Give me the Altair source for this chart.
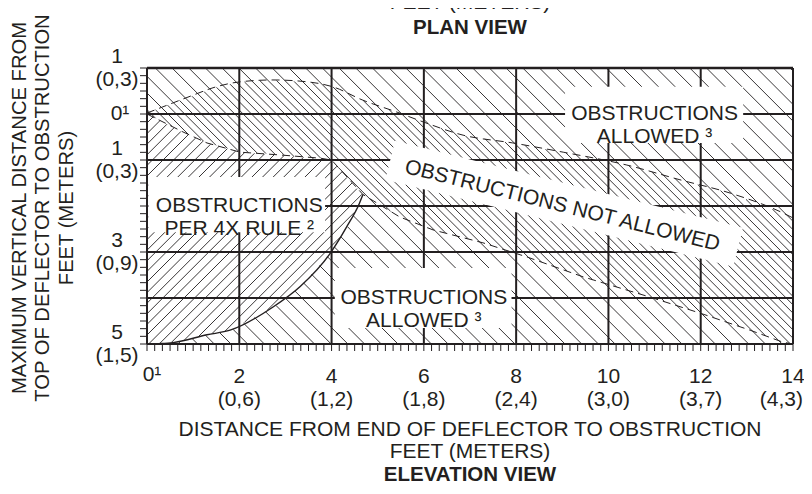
import numpy as np
import pandas as pd
import altair as alt

# ---------------- values ----------------
x_tick_pos = [0, 2, 4, 6, 8, 10, 12, 14]
x_ft_labels = ["0¹", "2", "4", "6", "8", "10", "12", "14"]
x_m_pos = [2, 4, 6, 8, 10, 12, 14]
x_m_labels = ["(0,6)", "(1,2)", "(1,8)", "(2,4)", "(3,0)", "(3,7)", "(4,3)"]

y_ft_pos = [-1, 1, 3, 5]
y_ft_labels = ["1", "1", "3", "5"]
y_m_pos = [-1, 1, 3, 5]
y_m_labels = ["(0,3)", "(0,3)", "(0,9)", "(1,5)"]
y_zero_label = ["0¹"]

grid_x = [2, 4, 6, 8, 10, 12]
grid_y = [0, 1, 2, 3, 4]

# upper dashed curve (spray boundary above)
upper_x = [0, 0.56, 1.0, 1.43, 2.02, 2.73, 3.47, 4.03, 4.68, 5.42, 5.98, 6.85,
           7.93, 9.02, 10.40, 11.55, 12.64, 13.78, 14.0]
upper_y = [-0.02, -0.24, -0.41, -0.57, -0.70, -0.74, -0.70, -0.59, -0.30, -0.04,
           0.17, 0.46, 0.63, 0.83, 1.11, 1.43, 1.72, 2.15, 2.26]
# lower dashed curve
lower_x = [0, 0.78, 1.30, 2.02, 2.88, 3.75, 4.0, 4.68, 5.48, 6.20, 7.28, 8.24,
           9.45, 10.9, 11.99, 13.07, 13.78, 14.0]
lower_y = [0, 0.39, 0.63, 0.83, 0.89, 0.96, 1.0, 1.75, 2.24, 2.52, 2.80, 3.11,
           3.54, 3.98, 4.33, 4.70, 4.96, 5.0]
# solid curve bounding the 4X rule zone
rule4x_x = [0, 0.3, 0.56, 1.3, 1.8, 2.74, 3.32, 3.97, 4.33, 4.6, 4.68]
rule4x_y = [5.0, 4.99, 4.97, 4.80, 4.70, 4.19, 3.75, 3.03, 2.45, 1.95, 1.75]

region_labels = ["OBSTRUCTIONS\nPER 4X RULE ²", "OBSTRUCTIONS\nALLOWED ³", "OBSTRUCTIONS\nALLOWED ³"]
region_x = [2.0, 11.0, 6.0]
region_y = [2.0, 0.0, 4.0]
box_x1 = [0.03, 9.06, 4.07]
box_x2 = [3.86, 12.92, 7.90]
box_y1 = [1.37, -0.59, 3.35]
box_y2 = [2.57, 0.63, 4.65]

slant_label = ["OBSTRUCTIONS NOT ALLOWED"]
slant_x = [9.0]
slant_y = [2.0]
band_x = [5.27]
band_x2 = [12.81]
band_y = [1.005]
band_y2 = [2.897]

y_title_lines = ["MAXIMUM VERTICAL DISTANCE  FROM", "TOP OF DEFLECTOR TO OBSTRUCTION", "FEET (METERS)"]
x_title_lines = ["DISTANCE FROM END OF DEFLECTOR TO OBSTRUCTION", "FEET (METERS)"]
top_title_lines = ["FEET (METERS)"]
view_titles = ["PLAN VIEW", "ELEVATION  VIEW"]

# ---------------- layout ----------------
W, H = 646, 276
X0, X1, Y0, Y1 = 0.0, 14.0, -1.0, 5.0
SX, SY = W / (X1 - X0), H / (Y1 - Y0)
FONT = "Liberation Sans"
INK = "#231f20"
FS = 21

xs = alt.Scale(domain=[X0, X1], nice=False, zero=False)
ys = alt.Scale(domain=[Y0, Y1], nice=False, zero=False, reverse=True)


def fU(x):
    return np.interp(x, upper_x, upper_y)


def fL(x):
    return np.interp(x, lower_x, lower_y)


def fS(x):
    return np.interp(x, rule4x_x, rule4x_y)


def in_4x(x, y):
    return (x <= rule4x_x[-1]) & (y >= fL(x)) & (y <= fS(x))


def in_dense(x, y):
    return (y >= fU(x)) & (y <= fL(x))


def not_4x(x, y):
    return ~in_4x(x, y)


def hatch(kind, spacing, phase, inside, name):
    rows = []
    px = np.arange(0, W + 0.01, 0.5)
    cs = np.arange(-W + phase, H, spacing) if kind == "back" else np.arange(phase, W + H, spacing)
    for c in cs:
        py = px + c if kind == "back" else c - px
        xd = px / SX + X0
        yd = py / SY + Y0
        ok = (py >= 0) & (py <= H) & inside(xd, yd)
        if not ok.any():
            continue
        d = np.diff(np.concatenate([[0], ok.astype(int), [0]]))
        starts = np.where(d == 1)[0]
        ends = np.where(d == -1)[0] - 1
        for s, e in zip(starts, ends):
            if e - s < 1:
                continue
            rows.append({"x": xd[s], "y": yd[s], "x2": xd[e], "y2": yd[e], "set": name})
    return rows


hatch_rows = (hatch("back", 16.7, 3.0, not_4x, "sparse")
              + hatch("back", 16.7, 3.0 + 8.35, in_dense, "dense")
              + hatch("fwd", 10.6, 2.0, in_4x, "rule4x"))
hatch_df = pd.DataFrame(hatch_rows).round(4)


def Xq(f):
    return alt.X(f, type="quantitative", scale=xs, axis=None)


def Yq(f):
    return alt.Y(f, type="quantitative", scale=ys, axis=None)


minor_x = [i / 6 for i in range(0, 85)]
minor_y = [-1 + i / 6 for i in range(0, 37)]

ticks_x = alt.Chart(pd.DataFrame({"t": minor_x})).mark_rule(color=INK, strokeWidth=1).encode(
    x=Xq("t"), y=alt.value(H), y2=alt.value(H + 7))
ticks_y = alt.Chart(pd.DataFrame({"t": minor_y})).mark_rule(color=INK, strokeWidth=1).encode(
    y=Yq("t"), x=alt.value(0), x2=alt.value(-7))

hatch_layer = alt.Chart(hatch_df).mark_rule(color=INK, strokeWidth=0.9).encode(
    x=Xq("x"), y=Yq("y"), x2=alt.X2("x2"), y2=alt.Y2("y2"))

upper_df = pd.DataFrame({"x": upper_x, "y": upper_y, "i": range(len(upper_x))})
lower_df = pd.DataFrame({"x": lower_x, "y": lower_y, "i": range(len(lower_x))})
s_df = pd.DataFrame({"x": rule4x_x, "y": rule4x_y, "i": range(len(rule4x_x))})

dash_u = alt.Chart(upper_df).mark_line(color=INK, strokeWidth=1, strokeDash=[8, 5], interpolate="monotone").encode(
    x=Xq("x"), y=Yq("y"), order="i:Q")
dash_l = alt.Chart(lower_df).mark_line(color=INK, strokeWidth=1, strokeDash=[8, 5]).encode(
    x=Xq("x"), y=Yq("y"), order="i:Q")
solid_s = alt.Chart(s_df).mark_line(color=INK, strokeWidth=1.4, interpolate="monotone").encode(
    x=Xq("x"), y=Yq("y"), order="i:Q")

grid_v = alt.Chart(pd.DataFrame({"gx": grid_x})).mark_rule(color=INK, strokeWidth=2).encode(x=Xq("gx"))
grid_h = alt.Chart(pd.DataFrame({"gy": grid_y})).mark_rule(color=INK, strokeWidth=2).encode(y=Yq("gy"))

boxes = alt.Chart(pd.DataFrame({"a": box_x1, "b": box_x2, "c": box_y1, "d": box_y2})).mark_rect(
    color="white", opacity=1).encode(x=Xq("a"), x2=alt.X2("b"), y=Yq("c"), y2=alt.Y2("d"))
band = alt.Chart(pd.DataFrame({"a": band_x, "b": band_x2, "c": band_y, "d": band_y2})).mark_rule(
    color="white", strokeWidth=40, strokeCap="butt").encode(x=Xq("a"), x2=alt.X2("b"), y=Yq("c"), y2=alt.Y2("d"))

border_v = alt.Chart(pd.DataFrame({"gx": [X0, X1]})).mark_rule(color=INK, strokeWidth=2).encode(x=Xq("gx"))
border_b = alt.Chart(pd.DataFrame({"gy": [Y1]})).mark_rule(color=INK, strokeWidth=2).encode(y=Yq("gy"))
border_t = alt.Chart(pd.DataFrame({"gy": [Y0]})).mark_rule(color=INK, strokeWidth=2.6).encode(y=Yq("gy"))

region_text = alt.Chart(pd.DataFrame({"x": region_x, "y": region_y, "t": region_labels})).mark_text(
    font=FONT, fontSize=FS, color=INK, lineBreak="\n", lineHeight=23, align="center", baseline="middle").encode(
    x=Xq("x"), y=Yq("y"), text="t:N")
slant_text = alt.Chart(pd.DataFrame({"x": slant_x, "y": slant_y, "t": slant_label})).mark_text(
    font=FONT, fontSize=FS, color=INK, angle=14, align="center", baseline="middle").encode(
    x=Xq("x"), y=Yq("y"), text="t:N")

xft = alt.Chart(pd.DataFrame({"x": x_tick_pos[1:], "t": x_ft_labels[1:]})).mark_text(
    font=FONT, fontSize=FS, color=INK, align="center", baseline="middle").encode(
    x=Xq("x"), y=alt.value(309), text="t:N")
xzero = alt.Chart(pd.DataFrame({"x": x_tick_pos[:1], "t": x_ft_labels[:1]})).mark_text(
    font=FONT, fontSize=FS, color=INK, align="center", baseline="middle", dx=5).encode(
    x=Xq("x"), y=alt.value(307), text="t:N")
xm = alt.Chart(pd.DataFrame({"x": x_m_pos[:-1], "t": x_m_labels[:-1]})).mark_text(
    font=FONT, fontSize=FS, color=INK, align="center", baseline="middle").encode(
    x=Xq("x"), y=alt.value(332), text="t:N")
xm_last = alt.Chart(pd.DataFrame({"x": x_m_pos[-1:], "t": x_m_labels[-1:]})).mark_text(
    font=FONT, fontSize=FS, color=INK, align="right", baseline="middle").encode(
    x=alt.value(W + 10), y=alt.value(332), text="t:N")

yft = alt.Chart(pd.DataFrame({"y": y_ft_pos, "t": y_ft_labels})).mark_text(
    font=FONT, fontSize=FS, color=INK, align="center", baseline="middle", dy=-11).encode(
    x=alt.value(-30), y=Yq("y"), text="t:N")
ym = alt.Chart(pd.DataFrame({"y": y_m_pos, "t": y_m_labels})).mark_text(
    font=FONT, fontSize=FS, color=INK, align="center", baseline="middle", dy=12).encode(
    x=alt.value(-30), y=Yq("y"), text="t:N")
yzero = alt.Chart(pd.DataFrame({"y": [0], "t": y_zero_label})).mark_text(
    font=FONT, fontSize=FS, color=INK, align="center", baseline="middle").encode(
    x=alt.value(-27), y=Yq("y"), text="t:N")

ytitle = alt.Chart(pd.DataFrame({"px": [-127, -104, -80], "t": y_title_lines})).mark_text(
    font=FONT, fontSize=20.2, color=INK, angle=270, align="center", baseline="middle").encode(
    x=alt.X("px:Q", scale=None), y=alt.value(140), text="t:N")
xtitle = alt.Chart(pd.DataFrame({"py": [362, 384], "t": x_title_lines})).mark_text(
    font=FONT, fontSize=FS, color=INK, align="center", baseline="middle").encode(
    x=alt.value(323), y=alt.Y("py:Q", scale=None), text="t:N")
toptitle = alt.Chart(pd.DataFrame({"t": top_title_lines})).mark_text(
    font=FONT, fontSize=FS, color=INK, align="center", baseline="bottom").encode(
    x=alt.value(323), y=alt.value(-55), text="t:N")
vtitles = alt.Chart(pd.DataFrame({"py": [-40, 407], "t": view_titles})).mark_text(
    font=FONT, fontSize=20.5, fontWeight="bold", color=INK, align="center", baseline="middle").encode(
    x=alt.value(323), y=alt.Y("py:Q", scale=None), text="t:N")

chart = alt.layer(
    hatch_layer, dash_u, dash_l, solid_s, grid_v, grid_h, boxes, band,
    border_v, border_b, border_t, ticks_x, ticks_y, region_text, slant_text, xft, xzero, xm, xm_last,
    yft, ym, yzero, ytitle, xtitle, toptitle, vtitles,
).properties(
    width=W, height=H,
    autosize=alt.AutoSizeParams(type="none"),
    padding={"left": 139, "top": 60, "right": 11, "bottom": 142},
    background="white",
).configure_view(stroke=None)

chart.save("out.html", embed_options={"renderer": "svg", "actions": False})
